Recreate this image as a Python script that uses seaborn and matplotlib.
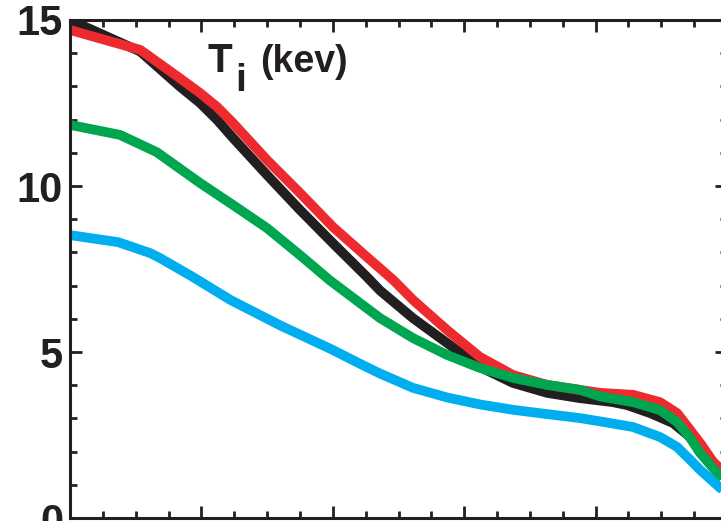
import numpy as np
import pandas as pd
import matplotlib
matplotlib.use("Agg")
import matplotlib.pyplot as plt
import seaborn as sns
from matplotlib.ticker import MultipleLocator, NullFormatter

# ---- data ----
black_x = [0, 0.107, 0.167, 0.198, 0.224, 0.248, 0.30, 0.35, 0.40, 0.452, 0.472, 0.522, 0.574,
           0.624, 0.674, 0.726, 0.776, 0.826, 0.848, 0.883, 0.918, 0.944, 0.97, 1.0]
black_y = [15.0, 14.05, 13.0, 12.5, 11.99, 11.45, 10.33, 9.28, 8.28, 7.26, 6.85, 6.02, 5.27,
           4.55, 4.07, 3.77, 3.61, 3.49, 3.40, 3.16, 2.86, 2.44, 1.8, 1.0]

red_x = [0, 0.107, 0.167, 0.198, 0.224, 0.248, 0.30, 0.35, 0.40, 0.452, 0.492, 0.522, 0.574,
         0.624, 0.674, 0.726, 0.776, 0.807, 0.857, 0.898, 0.924, 0.944, 0.959, 0.979, 1.0]
red_y = [14.7, 14.1, 13.25, 12.8, 12.38, 11.9, 10.78, 9.79, 8.77, 7.86, 7.17, 6.57, 5.66,
         4.85, 4.31, 4.01, 3.86, 3.77, 3.71, 3.49, 3.16, 2.65, 2.26, 1.69, 1.3]

green_x = [0, 0.076, 0.132, 0.198, 0.248, 0.30, 0.35, 0.396, 0.472, 0.522, 0.574, 0.624, 0.674,
           0.726, 0.776, 0.807, 0.857, 0.898, 0.924, 0.944, 0.959, 0.979, 1.0]
green_y = [11.84, 11.54, 11.02, 10.09, 9.43, 8.73, 7.92, 7.15, 6.02, 5.42, 4.91, 4.52, 4.22,
           4.01, 3.86, 3.66, 3.49, 3.25, 2.89, 2.41, 1.96, 1.5, 1.0]

blue_x = [0, 0.073, 0.122, 0.137, 0.187, 0.244, 0.32, 0.396, 0.446, 0.472, 0.522, 0.574, 0.624,
          0.674, 0.726, 0.776, 0.807, 0.857, 0.898, 0.924, 0.944, 0.959, 0.99, 1.0]
blue_y = [8.52, 8.31, 7.98, 7.83, 7.26, 6.57, 5.8, 5.1, 4.6, 4.35, 3.92, 3.63, 3.42,
          3.26, 3.13, 3.01, 2.91, 2.74, 2.44, 2.14, 1.75, 1.45, 0.9, 0.8]

y_ticks = [0, 5, 10, 15]
y_tick_labels = ["0", "5", "10", "15"]
title_main = "T"
title_sub = "i"
title_unit = "(kev)"

series = ["black", "red", "green", "blue"]
colors = {"black": "#231f20", "red": "#ed2b2e", "green": "#00a550", "blue": "#00aeef"}

frames = []
for name, xs, ys in [("black", black_x, black_y), ("red", red_x, red_y),
                     ("green", green_x, green_y), ("blue", blue_x, blue_y)]:
    frames.append(pd.DataFrame({"rho": xs, "Ti": ys, "series": name}))
df = pd.concat(frames, ignore_index=True)

sns.set_theme(style="white")
plt.rcParams["font.family"] = ["Liberation Sans Narrow", "Liberation Sans", "DejaVu Sans"]
plt.rcParams["font.weight"] = "bold"

fig = plt.figure(figsize=(7.21, 5.21), dpi=100)
W, H = 721, 521
ax = fig.add_axes([70 / W, 3 / H, 657 / W, 498 / H])

for name in series:
    sub = df[df["series"] == name]
    sns.lineplot(data=sub, x="rho", y="Ti", ax=ax, color=colors[name], lw=7,
                 sort=False, estimator=None, legend=False, solid_capstyle="butt",
                 solid_joinstyle="round")

ax.set_xlim(0, 1)
ax.set_ylim(0, 15)
ax.set_xlabel("")
ax.set_ylabel("")
ax.xaxis.set_major_locator(MultipleLocator(0.2))
ax.xaxis.set_minor_locator(MultipleLocator(0.05))
ax.xaxis.set_major_formatter(NullFormatter())
ax.set_yticks(y_ticks)
ax.set_yticklabels(y_tick_labels)
ax.yaxis.set_minor_locator(MultipleLocator(1))

for sp in ax.spines.values():
    sp.set_visible(True)
    sp.set_color("#231f20")
    sp.set_linewidth(2.2)

ax.tick_params(which="both", direction="in", top=True, right=True, bottom=True, left=True,
               color="#231f20", width=2.0)
ax.tick_params(which="major", length=8.5, labelsize=30, pad=5, labelcolor="#231f20")
ax.tick_params(which="minor", length=5)
for lab in ax.get_yticklabels():
    lab.set_fontweight("bold")

# title pieces placed in figure pixel coordinates
fig.text(207 / W, 1 - 72 / H, title_main, fontsize=29, fontweight="bold", color="#231f20",
         ha="left", va="baseline")
fig.text(235 / W, 1 - 91 / H, title_sub, fontsize=28, fontweight="bold", color="#231f20",
         ha="left", va="baseline")
fig.text(260 / W, 1 - 72 / H, title_unit, fontsize=27, fontweight="bold", color="#231f20",
         ha="left", va="baseline")

fig.savefig("out.png", dpi=100)
